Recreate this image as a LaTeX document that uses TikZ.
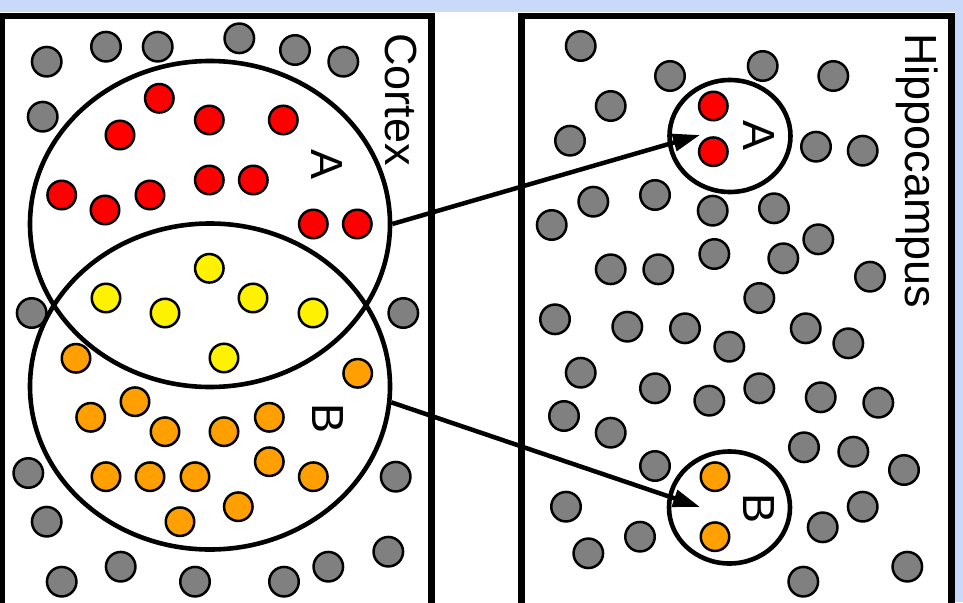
\documentclass[tikz,border=0pt]{standalone}
\usepackage{fontspec}
\setmainfont{Liberation Sans}
\usetikzlibrary{shapes.geometric,arrows.meta}
\definecolor{bgblue}{RGB}{201,217,250}
\definecolor{dotgray}{RGB}{128,128,128}
\definecolor{dotorange}{RGB}{255,160,0}
\begin{document}
\begin{tikzpicture}[x=1pt,y=-1pt,
  dotbase/.style={circle,draw=black,line width=2.5pt,inner sep=0pt,minimum size=28.5pt},
  gdot/.style={dotbase,fill=dotgray,minimum size=29.5pt},
  rdot/.style={dotbase,fill=red},
  ydot/.style={dotbase,fill=yellow},
  odot/.style={dotbase,fill=dotorange},
  panel/.style={draw=black,line width=6.5pt,fill=white},
  bigset/.style={ellipse,draw=black,line width=4.6pt,minimum width=360pt,minimum height=326pt,inner sep=0pt},
  smallset/.style={ellipse,draw=black,line width=4.6pt,minimum width=121pt,minimum height=112pt,inner sep=0pt},
  lbl/.style={font=\fontsize{45}{50}\selectfont,rotate=-90,inner sep=0pt},
  link/.style={line width=4.5pt,-{Triangle[length=27pt,width=17pt]}}
]
\useasboundingbox (0,0) rectangle (963,602);
\clip (0,0) rectangle (963,602);
\fill[white] (0,0) rectangle (963,602);
\fill[bgblue] (0,0) rectangle (963,12.5);
\fill[bgblue] (955,0) rectangle (963,602);

% panels
\draw[panel] (1.5,16) rectangle (431.5,640);
\draw[panel] (521.5,16) rectangle (951.5,640);

% left panel gray dots
\foreach \px/\py [count=\i] in {46.7/61.7,106/46.7,157.7/46.7,239.3/38.3,295/50,343.3/61.7,42.7/116.7,31.7/313,403.3/313,28.3/473,395.7/476.7,46.7/521.7,61.7/581.7,120.7/566.7,195/581.7,284/581.7,328.3/566.7,388.3/551.7}
  \node[gdot] (lg\i) at (\px,\py) {};
% red
\foreach \px/\py [count=\i] in {159.3/98.3,120/135,209.3/120,283.3/120,209.3/180,253.3/180,61.7/195,105/210,150/195,313.3/224,357.3/224}
  \node[rdot] (r\i) at (\px,\py) {};
% yellow
\foreach \px/\py [count=\i] in {209.3/268.3,106/298,165/313,253/298,313/313,224/358}
  \node[ydot] (y\i) at (\px,\py) {};
% orange
\foreach \px/\py [count=\i] in {76/358.3,357.7/373.3,135/401.7,90.7/417.3,165/431.7,224/431.7,269.3/417.3,106/476.7,150/476.7,195/476.7,269.3/461.7,313.3/476.7,238.3/506.7,180/521.7}
  \node[odot] (o\i) at (\px,\py) {};

% right panel gray dots
\foreach \px/\py [count=\i] in {580.7/46,670/76,762.7/66,833.3/76,610.7/106,570/140.7,816/146.7,862.7/150.7,655/195,593.3/201.7,551.7/225,712.7/210.7,774/208.3,818.3/239.3,714.3/254,783.3/258.3,610.7/269.3,658.3/269.3,870/276.7,759.3/298,555/319.3,627.3/326.7,685/328.3,729.3/346.7,805.7/328.3,848.3/343.3,580.7/372.7,655/388.3,709.3/400.7,759.3/388.3,820.7/397.3,878.3/402.7,564/416,610.7/432.7,804/447.3,853.3/451.7,904/470,655/466,566/506.7,862.7/506.7,822.7/527.3,640/536.7,588.3/553.3,907.3/566.7,803.3/581.7}
  \node[gdot] (rg\i) at (\px,\py) {};

% hippocampus copies
\node[rdot] (hr1) at (713.3,106) {};
\node[rdot] (hr2) at (713.3,151.7) {};
\node[odot] (ho1) at (715,476.7) {};
\node[odot] (ho2) at (715,536.7) {};

% sets
\node[bigset] (bigA) at (210,224) {};
\node[bigset] (bigB) at (210,386.5) {};
\node[smallset] (smallA) at (730,136) {};
\node[smallset] (smallB) at (729.5,507.5) {};

% labels
\node[lbl,anchor=base west] (cortex) at (385,33) {Cortex};
\node[lbl,anchor=base west] (hippo) at (905,33) {Hippocampus};
\node[lbl,anchor=base] (labA) at (311,165) {A};
\node[lbl,anchor=base] (labB) at (312,419) {B};
\node[lbl,anchor=base] (labsA) at (743,136) {A};
\node[lbl,anchor=base] (labsB) at (743,508.5) {B};

% arrows
\coordinate (tipA) at (700,135);
\coordinate (tipB) at (700,507);
\draw[link] (bigA.east) -- (tipA);
\draw[link] (bigB.-5) -- (tipB);
\end{tikzpicture}
\end{document}
